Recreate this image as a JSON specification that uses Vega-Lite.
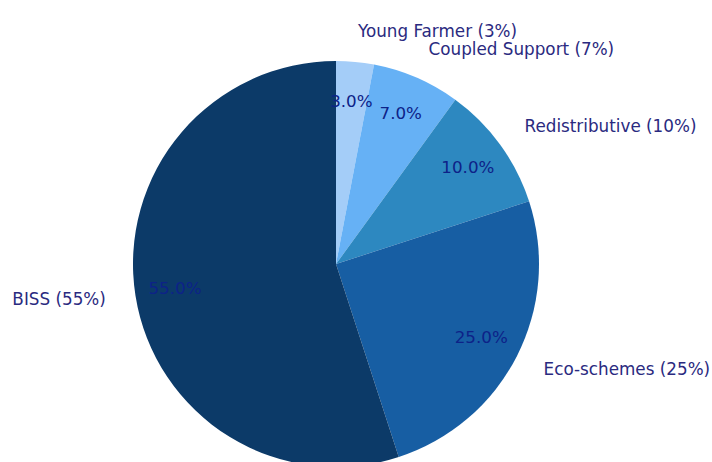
{
  "$schema": "https://vega.github.io/schema/vega-lite/v6.json",
  "width": 672,
  "height": 396,
  "autosize": {"type": "none"},
  "padding": {"left": 0, "top": 66, "right": 40, "bottom": 0},
  "background": "white",
  "config": {"view": {"stroke": null}},
  "data": {
    "values": [
      {"category": "Young Farmer", "value": 3, "pct": "3.0%", "label": "Young Farmer (3%)"},
      {"category": "Coupled Support", "value": 7, "pct": "7.0%", "label": "Coupled Support (7%)"},
      {"category": "Redistributive", "value": 10, "pct": "10.0%", "label": "Redistributive (10%)"},
      {"category": "Eco-schemes", "value": 25, "pct": "25.0%", "label": "Eco-schemes (25%)"},
      {"category": "BISS", "value": 55, "pct": "55.0%", "label": "BISS (55%)"}
    ]
  },
  "encoding": {
    "theta": {"field": "value", "type": "quantitative", "stack": true},
    "order": {"field": "value", "type": "quantitative", "sort": "ascending"}
  },
  "layer": [
    {
      "mark": {"type": "arc", "radius": 203},
      "encoding": {
        "color": {
          "field": "category",
          "type": "nominal",
          "scale": {
            "domain": ["Young Farmer", "Coupled Support", "Redistributive", "Eco-schemes", "BISS"],
            "range": ["#a4cdf8", "#66b1f5", "#2d88c0", "#175ea3", "#0c3a68"]
          },
          "legend": null
        }
      }
    },
    {
      "mark": {"type": "text", "radius": 163, "fontSize": 16.7, "font": "DejaVu Sans", "fill": "#0d2288", "align": "center", "baseline": "middle"},
      "encoding": {"text": {"field": "pct", "type": "nominal"}}
    },
    {
      "mark": {"type": "text", "radius": 233, "fontSize": 16.8, "font": "DejaVu Sans", "fill": "#2a2a80", "baseline": "middle",
        "align": {"expr": "datum.category === 'BISS' ? 'right' : 'left'"}},
      "encoding": {"text": {"field": "label", "type": "nominal"}}
    }
  ]
}
